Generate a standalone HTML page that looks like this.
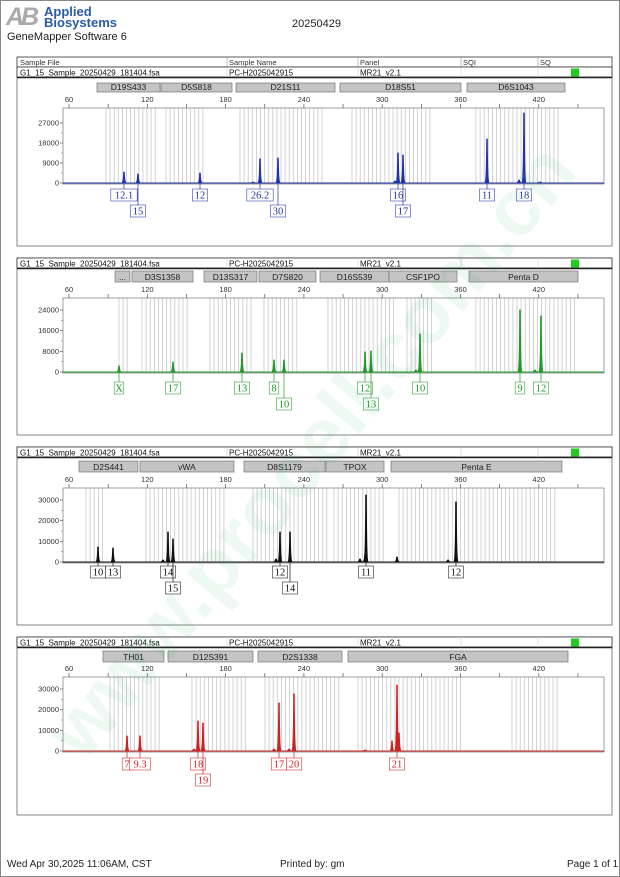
<!DOCTYPE html>
<html><head><meta charset="utf-8">
<style>
html,body{margin:0;padding:0;background:#fff;}
svg{display:block;font-family:"Liberation Sans",sans-serif;}
</style></head>
<body>
<svg id="s" width="620" height="877" viewBox="0 0 620 877" xmlns="http://www.w3.org/2000/svg">
<rect x="0.5" y="0.5" width="619" height="876" fill="#fff" stroke="#888"/>
<text x="6" y="25" font-size="25" font-weight="bold" fill="#aaa" font-style="italic" letter-spacing="-3">AB</text>
<text x="44" y="16" font-size="13" font-weight="bold" fill="#2a5ba8">Applied</text>
<text x="44" y="27" font-size="13" font-weight="bold" fill="#2a5ba8">Biosystems</text>
<text x="7" y="40" font-size="11" fill="#222">GeneMapper Software 6</text>
<text x="292" y="27" font-size="11" fill="#222">20250429</text>
<g id="g"></g>
<text x="7" y="867" font-size="10" fill="#222">Wed Apr 30,2025 11:06AM, CST</text>
<text x="280" y="867" font-size="10" fill="#222">Printed by: gm</text>
<text x="567" y="867" font-size="10" fill="#222">Page 1 of 1</text>
<text x="310" y="478" font-size="80" text-anchor="middle" fill="#2fb36a" opacity="0.07" transform="rotate(-50 310 450)" font-weight="bold">www.procell.com.cn</text>
</svg>
<script>
var g=document.getElementById('g'),h='';
function px(bp){return 69+(bp-60)*1.305;}
h+='<rect x="17" y="57" width="595" height="10" fill="#fff" stroke="#333" stroke-width="0.8"/>';
[[20,'Sample File'],[229,'Sample Name'],[360,'Panel'],[463,'SQI'],[540,'SQ']].forEach(function(c){h+='<text x="'+c[0]+'" y="65" font-size="7.5" fill="#333">'+c[1]+'</text>';});
[227,358,461,538].forEach(function(x){h+='<line x1="'+x+'" y1="57" x2="'+x+'" y2="67" stroke="#999" stroke-width="0.6"/>';});
var P=[
 {rt:67,bot:246,top:108,zero:183,col:'#2233aa',ticks:[[0,183],[9000,163],[18000,143],[27000,123]],mk:[83,92],lo:6,
  marks:[[97,160,'D19S433'],[161,232,'D5S818'],[236,335,'D21S11'],[340,461,'D18S51'],[467,565,'D6S1043']],
  bins:[[106,157],[166,206],[240,326],[352,431],[476,561]],
  peaks:[[124,172,'12.1',0],[138,174,'15',1],[200,173,'12',0],[260,159,'26.2',0],[278,158,'30',1],[398,153,'16',0],[403,155,'17',1],[487,139,'11',0],[524,113,'18',0],[519,180,'',0],[395,181,'',0],[253,182,'',0],[540,182,'',0]]},
 {rt:258,bot:435,top:298,zero:372,col:'#22992a',ticks:[[0,372],[8000,351.3],[16000,330.7],[24000,310]],mk:[271,282],lo:10,
  marks:[[115,130,'...'],[132,193,'D3S1358'],[204,257,'D13S317'],[259,316,'D7S820'],[320,389,'D16S539'],[389,457,'CSF1PO'],[469,578,'Penta D']],
  bins:[[119,128],[142,190],[210,253],[264,297],[328,395],[407,435],[476,577]],
  peaks:[[119,366,'X',0],[173,362,'17',0],[242,353,'13',0],[274,360,'8',0],[284,360,'10',1],[365,352,'12',0],[371,351,'13',1],[420,334,'10',0],[520,310,'9',0],[541,316,'12',0],[416,370,'',0],[535,370,'',0]]},
 {rt:447,bot:625,top:488,zero:562,col:'#111',ticks:[[0,562],[10000,541.3],[20000,520.7],[30000,500]],mk:[461,472],lo:4,
  marks:[[79,138,'D2S441'],[140,234,'vWA'],[244,325,'D8S1179'],[326,384,'TPOX'],[391,562,'Penta E']],
  bins:[[86,106],[146,227],[253,328],[334,385],[399,557]],
  peaks:[[98,547,'10',0],[113,548,'13',0],[168,532,'14',0],[173,539,'15',1],[280,532,'12',0],[290,532,'14',1],[366,495,'11',0],[365,555,'',0],[360,559,'',0],[397,557,'',0],[456,502,'12',0],[448,560,'',0],[163,560,'',0],[276,559,'',0]]},
 {rt:637,bot:815,top:677,zero:751,col:'#cc2222',ticks:[[0,751],[10000,730.3],[20000,709.7],[30000,689]],mk:[651,662],lo:7,
  marks:[[103,164,'TH01'],[168,253,'D12S391'],[258,342,'D2S1338'],[348,568,'FGA']],
  bins:[[110,162],[192,249],[265,340],[358,461],[512,561]],
  peaks:[[127,736,'7',0],[140,736,'9.3',0],[198,721,'18',0],[203,723,'19',1],[279,703,'17',0],[294,694,'20',0],[397,685,'21',0],[392,741,'',0],[399,733,'',0],[274,749,'',0],[289,749,'',0],[194,749,'',0],[365,750,'',0]]}
];
P.forEach(function(p){
 h+='<rect x="17" y="'+p.rt+'" width="595" height="'+(p.bot-p.rt)+'" fill="none" stroke="#666" stroke-width="0.8"/>';
 h+='<rect x="17" y="'+p.rt+'" width="595" height="10" fill="#fff" stroke="#333" stroke-width="0.8"/>';
 h+='<line x1="17" y1="'+(p.rt+10.5)+'" x2="612" y2="'+(p.rt+10.5)+'" stroke="#222" stroke-width="1.5"/>';
 [227,358,461,538].forEach(function(x){h+='<line x1="'+x+'" y1="'+p.rt+'" x2="'+x+'" y2="'+(p.rt+10)+'" stroke="#ccc" stroke-width="0.6"/>';});
 var ty=p.rt+8.5;
 h+='<text x="20" y="'+ty+'" font-size="8" fill="#111">G1_15_Sample_20250429_181404.fsa</text>';
 h+='<text x="229" y="'+ty+'" font-size="8" fill="#111">PC-H2025042915</text>';
 h+='<text x="360" y="'+ty+'" font-size="8" fill="#111">MR21_v2.1</text>';
 h+='<rect x="571" y="'+(p.rt+1.5)+'" width="8" height="8" fill="#22cc22"/>';
 p.marks.forEach(function(m){
  h+='<rect x="'+m[0]+'" y="'+p.mk[0]+'" width="'+(m[1]-m[0])+'" height="'+(p.mk[1]-p.mk[0])+'" fill="#c4c4c4" stroke="#777" stroke-width="0.7"/>';
  h+='<text x="'+((m[0]+m[1])/2)+'" y="'+(p.mk[1]-2)+'" font-size="8.5" text-anchor="middle" fill="#222">'+m[2]+'</text>';
 });
 p.bins.forEach(function(b){for(var x=b[0];x<=b[1];x+=4.1){h+='<line x1="'+x.toFixed(1)+'" y1="'+p.top+'" x2="'+x.toFixed(1)+'" y2="'+p.zero+'" stroke="#c8c8c8" stroke-width="0.8"/>';}});
 h+='<rect x="63" y="'+p.top+'" width="541" height="'+(p.zero-p.top+1)+'" fill="none" stroke="#888" stroke-width="0.8"/>';
 for(var bp=60;bp<=450;bp+=30){var x=px(bp);h+='<line x1="'+x+'" y1="'+(p.top-4)+'" x2="'+x+'" y2="'+p.top+'" stroke="#555" stroke-width="0.7"/>';
  if(bp%60==0)h+='<text x="'+x+'" y="'+(p.top-6)+'" font-size="7.5" text-anchor="middle" fill="#333">'+bp+'</text>';}
 p.ticks.forEach(function(t,i){h+='<line x1="60" y1="'+t[1]+'" x2="63" y2="'+t[1]+'" stroke="#555" stroke-width="0.7"/><text x="59" y="'+(t[1]+2.5)+'" font-size="7.5" text-anchor="end" fill="#333">'+t[0]+'</text>';
  if(i<3){var m=(t[1]+p.ticks[i+1][1])/2;h+='<line x1="61" y1="'+m+'" x2="63" y2="'+m+'" stroke="#777" stroke-width="0.6"/>';}});
 h+='<path d="M63,'+p.zero+' L604,'+p.zero+'" stroke="'+p.col+'" stroke-width="1" fill="none"/>';
 p.peaks.forEach(function(k){var x=k[0],t=k[1],z=p.zero;
  h+='<path d="M'+(x-2.2)+','+z+' Q'+(x-0.6)+','+(z-1)+' '+(x-0.4)+','+t+' L'+(x+0.4)+','+t+' Q'+(x+0.6)+','+(z-1)+' '+(x+2.2)+','+z+'" fill="'+p.col+'" stroke="'+p.col+'" stroke-width="0.8"/>';
  if(k[2]){var w=k[2].length*5.6+4,by=z+p.lo+k[3]*16,bh=12;
   h+='<line x1="'+x+'" y1="'+z+'" x2="'+x+'" y2="'+by+'" stroke="'+p.col+'" stroke-width="0.7"/>';
   h+='<rect x="'+(x-w/2)+'" y="'+by+'" width="'+w+'" height="'+bh+'" fill="#fff" stroke="'+p.col+'" stroke-width="0.6" opacity="0.9"/>';
   h+='<text x="'+x+'" y="'+(by+9.5)+'" font-size="10.5" text-anchor="middle" fill="'+p.col+'" font-family="Liberation Serif,serif">'+k[2]+'</text>';}
 });
});
g.innerHTML=h;
</script>
</body></html>
